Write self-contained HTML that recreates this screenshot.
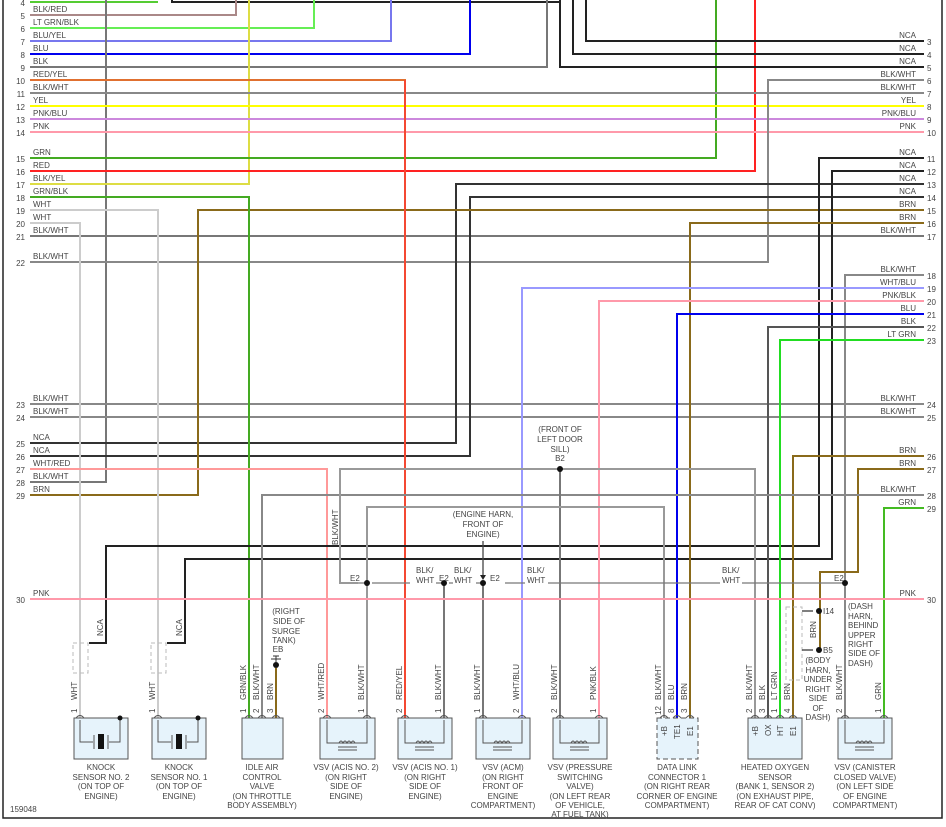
<!DOCTYPE html>
<html><head><meta charset="utf-8"><style>
html,body{margin:0;padding:0;background:#fff;width:946px;height:827px;overflow:hidden}
svg{display:block}
text{font-family:"Liberation Sans",sans-serif;font-size:8px;fill:#444}
.w{fill:none;stroke-width:2}
.t{fill:none;stroke-width:1.3}
</style></head><body>
<svg width="946" height="827" viewBox="0 0 946 827" xmlns="http://www.w3.org/2000/svg">
<rect x="0" y="0" width="946" height="827" fill="#fff"/>
<!-- frame -->
<path d="M3,0 V818 H942 V0" fill="none" stroke="#222" stroke-width="1.5"/>

<!-- top wires -->
<path class="w" stroke="#55cc33" d="M30,2 H158"/>
<path class="w" stroke="#222" d="M172,0 V2 H560"/>
<path class="w" stroke="#a88" d="M30,15 H236 V0"/>
<path class="w" stroke="#66ee55" d="M30,28 H314 V0"/>
<path class="w" stroke="#7777ee" d="M30,41 H391 V0"/>
<path class="w" stroke="#0000ee" d="M30,54 H470 V0"/>
<path class="w" stroke="#777" d="M30,67 H547 V0"/>
<path class="w" stroke="#777" d="M106,0 V482 H30"/>
<path class="w" stroke="#dddd44" d="M249,0 V184 H30"/>
<path class="w" stroke="#44aa22" d="M716,0 V158 H30"/>
<path class="w" stroke="#ff2222" d="M755,0 V171 H30"/>
<path class="w" stroke="#222" d="M560,0 V67 H924"/>
<path class="w" stroke="#222" d="M573,0 V54 H924"/>
<path class="w" stroke="#222" d="M586,0 V41 H924"/>

<!-- through wires -->
<path class="w" stroke="#888" d="M30,93 H924"/>
<path class="w" stroke="#ffff00" d="M30,106 H924"/>
<path class="w" stroke="#cc88dd" d="M30,119 H924"/>
<path class="w" stroke="#ff99aa" d="M30,132 H924"/>
<path class="w" stroke="#777" d="M30,236 H924"/>
<path class="w" stroke="#888" d="M30,404 H924"/>
<path class="w" stroke="#888" d="M30,417 H924"/>

<path class="w" stroke="#888" d="M30,262 H768 V80 H924"/>
<path class="w" stroke="#333" d="M30,443 H456 V184 H924"/>
<path class="w" stroke="#333" d="M30,456 H470 V197 H924"/>
<path class="w" stroke="#8a6a1a" d="M30,495 H198 V210 H924"/>
<path class="w" stroke="#e07030" d="M30,80 H405 V718"/>
<path class="t" stroke="#ff3333" d="M405,80 V718"/>
<path class="w" stroke="#44aa22" d="M30,197 H249 V718"/>
<path class="w" stroke="#ccc" d="M30,210 H158 V718"/>
<path class="w" stroke="#ccc" d="M30,223 H80 V718"/>
<path class="w" stroke="#ff9999" d="M30,469 H327 V718"/>

<path class="w" stroke="#222" d="M924,158 H819 V546 H106 V643 H89"/>
<path class="w" stroke="#222" d="M924,171 H832 V559 H185 V643 H167"/>
<path class="w" stroke="#8a6a1a" d="M924,223 H690 V718"/>
<path class="w" stroke="#888" d="M924,275 H845 V718"/>
<path class="w" stroke="#9999ff" d="M924,288 H522 V718"/>
<path class="w" stroke="#ff99aa" d="M924,301 H599 V718"/>
<path class="w" stroke="#0000ee" d="M924,314 H677 V718"/>
<path class="w" stroke="#555" d="M924,327 H768 V718"/>
<path class="w" stroke="#22dd22" d="M924,340 H780 V718"/>
<path class="w" stroke="#8a6a1a" d="M924,456 H793 V718"/>
<path class="w" stroke="#8a6a1a" d="M924,469 H858 V572 H820 V650"/>
<path class="w" stroke="#888" d="M924,495 H262 V718"/>
<path class="w" stroke="#44bb22" d="M924,508 H884 V718"/>

<!-- inner gray -->
<path class="w" stroke="#999" d="M755,718 V469 H340 V583 H358"/>
<path class="w" stroke="#777" d="M560,469 V718"/>
<path class="w" stroke="#999" d="M664,718 V507 H367 V718"/>
<path class="t" stroke="#777" d="M358,583 H367 M372,583 H410 M436,583 H444 M449,583 H453 M476,583 H483 M505,583 H525 M548,583 H720 M742,583 H845"/>
<path class="w" stroke="#777" d="M444,583 V718 M483,583 V718"/>
<path class="t" stroke="#444" d="M483,541 V576"/>
<path d="M480,575 L486,575 L483,580 Z" fill="#222"/>
<g fill="#111"><circle cx="367" cy="583" r="3"/><circle cx="444" cy="583" r="3"/><circle cx="483" cy="583" r="3"/><circle cx="845" cy="583" r="3"/><circle cx="560" cy="469" r="3"/><circle cx="819" cy="611" r="3"/><circle cx="819" cy="650" r="3"/></g>

<path class="w" stroke="#ff99aa" d="M30,599 H924"/>

<!-- shields -->
<g fill="none" stroke="#bbb" stroke-dasharray="4,3">
<rect x="73" y="643" width="15" height="30"/><rect x="151" y="643" width="15" height="30"/>
<rect x="786" y="607" width="16" height="73"/>
</g>
<path class="t" stroke="#333" d="M802,611 H813 M802,650 H813"/>
<!-- ground EB -->
<path class="w" stroke="#8a6a1a" d="M276,668 V718"/>
<circle cx="276" cy="665" r="3" fill="#111"/>
<path stroke="#333" d="M271,659 H281 M273,656 H279 M276,656 V662"/>

<!-- boxes -->
<g fill="#e6f3fb" stroke="#555" stroke-width="1">
<rect x="74" y="718" width="54" height="41"/>
<rect x="152" y="718" width="54" height="41"/>
<rect x="242" y="718" width="41" height="41"/>
<rect x="320" y="718" width="55" height="41"/>
<rect x="398" y="718" width="54" height="41"/>
<rect x="476" y="718" width="54" height="41"/>
<rect x="553" y="718" width="54" height="41"/>
<rect x="657" y="718" width="41" height="41" stroke-dasharray="5,3"/>
<rect x="748" y="718" width="54" height="41"/>
<rect x="838" y="718" width="54" height="41"/>
</g>
<!-- knock internals -->
<g fill="none" stroke="#555">
<path d="M80,720 V742 H93 M109,742 H120 V718"/>
<path d="M158,720 V742 H171 M187,742 H198 V718"/>
<path d="M94,735 V749 M108,735 V749 M172,735 V749 M186,735 V749"/>
</g>
<rect x="98" y="734" width="6" height="15" fill="#111"/><rect x="176" y="734" width="6" height="15" fill="#111"/>
<circle cx="120" cy="718" r="2.5" fill="#111"/><circle cx="198" cy="718" r="2.5" fill="#111"/>
<!-- vsv internals -->
<g fill="none" stroke="#555">
<path d="M327,720 V743 H367 V720 M339,743 q2,-4 4,0 q2,-4 4,0 q2,-4 4,0 q2,-4 4,0 M338,747 H357 M338,750 H357"/>
<path d="M405,720 V743 H444 V720 M416,743 q2,-4 4,0 q2,-4 4,0 q2,-4 4,0 q2,-4 4,0 M415,747 H434 M415,750 H434"/>
<path d="M483,720 V743 H522 V720 M494,743 q2,-4 4,0 q2,-4 4,0 q2,-4 4,0 q2,-4 4,0 M493,747 H512 M493,750 H512"/>
<path d="M560,720 V743 H599 V720 M571,743 q2,-4 4,0 q2,-4 4,0 q2,-4 4,0 q2,-4 4,0 M570,747 H589 M570,750 H589"/>
<path d="M845,720 V743 H884 V720 M856,743 q2,-4 4,0 q2,-4 4,0 q2,-4 4,0 q2,-4 4,0 M855,747 H874 M855,750 H874"/>
</g>
<!-- pin marks -->
<g fill="none" stroke="#555">
<path d="M76,718 q4,-5 8,0 M154,718 q4,-5 8,0 M245,718 q4,-5 8,0 M258,718 q4,-5 8,0 M272,718 q4,-5 8,0 M323,718 q4,-5 8,0 M363,718 q4,-5 8,0 M401,718 q4,-5 8,0 M440,718 q4,-5 8,0 M479,718 q4,-5 8,0 M518,718 q4,-5 8,0 M556,718 q4,-5 8,0 M595,718 q4,-5 8,0 M660,718 q4,-5 8,0 M673,718 q4,-5 8,0 M686,718 q4,-5 8,0 M751,718 q4,-5 8,0 M764,718 q4,-5 8,0 M776,718 q4,-5 8,0 M789,718 q4,-5 8,0 M841,718 q4,-5 8,0 M880,718 q4,-5 8,0"/>
</g>

<!-- left labels -->
<g text-anchor="end">
<text x="25" y="6">4</text><text x="25" y="19">5</text><text x="25" y="32">6</text><text x="25" y="45">7</text><text x="25" y="58">8</text><text x="25" y="71">9</text><text x="25" y="84">10</text><text x="25" y="97">11</text><text x="25" y="110">12</text><text x="25" y="123">13</text><text x="25" y="136">14</text><text x="25" y="162">15</text><text x="25" y="175">16</text><text x="25" y="188">17</text><text x="25" y="201">18</text><text x="25" y="214">19</text><text x="25" y="227">20</text><text x="25" y="240">21</text><text x="25" y="266">22</text><text x="25" y="408">23</text><text x="25" y="421">24</text><text x="25" y="447">25</text><text x="25" y="460">26</text><text x="25" y="473">27</text><text x="25" y="486">28</text><text x="25" y="499">29</text><text x="25" y="603">30</text>
</g>
<g>
<text x="33" y="12">BLK/RED</text><text x="33" y="25">LT GRN/BLK</text><text x="33" y="38">BLU/YEL</text><text x="33" y="51">BLU</text><text x="33" y="64">BLK</text><text x="33" y="77">RED/YEL</text><text x="33" y="90">BLK/WHT</text><text x="33" y="103">YEL</text><text x="33" y="116">PNK/BLU</text><text x="33" y="129">PNK</text><text x="33" y="155">GRN</text><text x="33" y="168">RED</text><text x="33" y="181">BLK/YEL</text><text x="33" y="194">GRN/BLK</text><text x="33" y="207">WHT</text><text x="33" y="220">WHT</text><text x="33" y="233">BLK/WHT</text><text x="33" y="259">BLK/WHT</text><text x="33" y="401">BLK/WHT</text><text x="33" y="414">BLK/WHT</text><text x="33" y="440">NCA</text><text x="33" y="453">NCA</text><text x="33" y="466">WHT/RED</text><text x="33" y="479">BLK/WHT</text><text x="33" y="492">BRN</text><text x="33" y="596">PNK</text>
</g>
<!-- right labels -->
<g text-anchor="end">
<text x="916" y="38">NCA</text><text x="916" y="51">NCA</text><text x="916" y="64">NCA</text><text x="916" y="77">BLK/WHT</text><text x="916" y="90">BLK/WHT</text><text x="916" y="103">YEL</text><text x="916" y="116">PNK/BLU</text><text x="916" y="129">PNK</text><text x="916" y="155">NCA</text><text x="916" y="168">NCA</text><text x="916" y="181">NCA</text><text x="916" y="194">NCA</text><text x="916" y="207">BRN</text><text x="916" y="220">BRN</text><text x="916" y="233">BLK/WHT</text><text x="916" y="272">BLK/WHT</text><text x="916" y="285">WHT/BLU</text><text x="916" y="298">PNK/BLK</text><text x="916" y="311">BLU</text><text x="916" y="324">BLK</text><text x="916" y="337">LT GRN</text><text x="916" y="401">BLK/WHT</text><text x="916" y="414">BLK/WHT</text><text x="916" y="453">BRN</text><text x="916" y="466">BRN</text><text x="916" y="492">BLK/WHT</text><text x="916" y="505">GRN</text><text x="916" y="596">PNK</text>
</g>
<g>
<text x="927" y="45">3</text><text x="927" y="58">4</text><text x="927" y="71">5</text><text x="927" y="84">6</text><text x="927" y="97">7</text><text x="927" y="110">8</text><text x="927" y="123">9</text><text x="927" y="136">10</text><text x="927" y="162">11</text><text x="927" y="175">12</text><text x="927" y="188">13</text><text x="927" y="201">14</text><text x="927" y="214">15</text><text x="927" y="227">16</text><text x="927" y="240">17</text><text x="927" y="279">18</text><text x="927" y="292">19</text><text x="927" y="305">20</text><text x="927" y="318">21</text><text x="927" y="331">22</text><text x="927" y="344">23</text><text x="927" y="408">24</text><text x="927" y="421">25</text><text x="927" y="460">26</text><text x="927" y="473">27</text><text x="927" y="499">28</text><text x="927" y="512">29</text><text x="927" y="603">30</text>
</g>

<!-- inline annotations -->
<g>
<text x="350" y="581">E2</text><text x="416" y="573">BLK/</text><text x="416" y="583">WHT</text><text x="439" y="581">E2</text>
<text x="454" y="573">BLK/</text><text x="454" y="583">WHT</text><text x="490" y="581">E2</text>
<text x="527" y="573">BLK/</text><text x="527" y="583">WHT</text><text x="722" y="573">BLK/</text><text x="722" y="583">WHT</text>
<text x="834" y="581">E2</text>
<text x="823" y="614">I14</text><text x="823" y="653">B5</text>
</g>
<g text-anchor="middle">
<text x="560" y="432">(FRONT OF</text><text x="560" y="442">LEFT DOOR</text><text x="560" y="452">SILL)</text><text x="560" y="461">B2</text>
<text x="483" y="517">(ENGINE HARN,</text><text x="483" y="527">FRONT OF</text><text x="483" y="537">ENGINE)</text>
<text x="286" y="614">(RIGHT</text><text x="289" y="624">SIDE OF</text><text x="286" y="634">SURGE</text><text x="284" y="643">TANK)</text><text x="278" y="652">EB</text>
<text x="818" y="663">(BODY</text><text x="818" y="673">HARN,</text><text x="818" y="682">UNDER</text><text x="818" y="692">RIGHT</text><text x="818" y="701">SIDE</text><text x="818" y="711">OF</text><text x="818" y="720">DASH)</text>
</g>
<g>
<text x="848" y="609">(DASH</text><text x="848" y="619">HARN,</text><text x="848" y="628">BEHIND</text><text x="848" y="638">UPPER</text><text x="848" y="647">RIGHT</text><text x="848" y="656">SIDE OF</text><text x="848" y="666">DASH)</text>
</g>

<!-- rotated wire labels -->
<g>
<text transform="translate(338,545) rotate(-90)">BLK/WHT</text>
<text transform="translate(103,636) rotate(-90)">NCA</text>
<text transform="translate(182,636) rotate(-90)">NCA</text>
<text transform="translate(816,638) rotate(-90)">BRN</text>
<text transform="translate(77,700) rotate(-90)">WHT</text>
<text transform="translate(155,700) rotate(-90)">WHT</text>
<text transform="translate(246,700) rotate(-90)">GRN/BLK</text>
<text transform="translate(259,700) rotate(-90)">BLK/WHT</text>
<text transform="translate(273,700) rotate(-90)">BRN</text>
<text transform="translate(324,700) rotate(-90)">WHT/RED</text>
<text transform="translate(364,700) rotate(-90)">BLK/WHT</text>
<text transform="translate(402,700) rotate(-90)">RED/YEL</text>
<text transform="translate(441,700) rotate(-90)">BLK/WHT</text>
<text transform="translate(480,700) rotate(-90)">BLK/WHT</text>
<text transform="translate(519,700) rotate(-90)">WHT/BLU</text>
<text transform="translate(557,700) rotate(-90)">BLK/WHT</text>
<text transform="translate(596,700) rotate(-90)">PNK/BLK</text>
<text transform="translate(661,700) rotate(-90)">BLK/WHT</text>
<text transform="translate(674,700) rotate(-90)">BLU</text>
<text transform="translate(687,700) rotate(-90)">BRN</text>
<text transform="translate(752,700) rotate(-90)">BLK/WHT</text>
<text transform="translate(765,700) rotate(-90)">BLK</text>
<text transform="translate(777,700) rotate(-90)">LT GRN</text>
<text transform="translate(790,700) rotate(-90)">BRN</text>
<text transform="translate(842,700) rotate(-90)">BLK/WHT</text>
<text transform="translate(881,700) rotate(-90)">GRN</text>
<!-- pin numbers -->
<text transform="translate(77,713) rotate(-90)">1</text>
<text transform="translate(155,713) rotate(-90)">1</text>
<text transform="translate(246,713) rotate(-90)">1</text><text transform="translate(259,713) rotate(-90)">2</text><text transform="translate(273,713) rotate(-90)">3</text>
<text transform="translate(324,713) rotate(-90)">2</text><text transform="translate(364,713) rotate(-90)">1</text>
<text transform="translate(402,713) rotate(-90)">2</text><text transform="translate(441,713) rotate(-90)">1</text>
<text transform="translate(480,713) rotate(-90)">1</text><text transform="translate(519,713) rotate(-90)">2</text>
<text transform="translate(557,713) rotate(-90)">2</text><text transform="translate(596,713) rotate(-90)">1</text>
<text transform="translate(661,715) rotate(-90)">12</text><text transform="translate(674,713) rotate(-90)">8</text><text transform="translate(687,713) rotate(-90)">3</text>
<text transform="translate(752,713) rotate(-90)">2</text><text transform="translate(765,713) rotate(-90)">3</text><text transform="translate(777,713) rotate(-90)">1</text><text transform="translate(790,713) rotate(-90)">4</text>
<text transform="translate(842,713) rotate(-90)">2</text><text transform="translate(881,713) rotate(-90)">1</text>
<!-- internal pin names -->
<text transform="translate(667,736) rotate(-90)">+B</text><text transform="translate(680,739) rotate(-90)">TE1</text><text transform="translate(693,736) rotate(-90)">E1</text>
<text transform="translate(758,736) rotate(-90)">+B</text><text transform="translate(771,736) rotate(-90)">OX</text><text transform="translate(783,736) rotate(-90)">HT</text><text transform="translate(796,736) rotate(-90)">E1</text>
</g>

<!-- component labels -->
<g text-anchor="middle">
<text x="101" y="770">KNOCK</text><text x="101" y="780">SENSOR NO. 2</text><text x="101" y="789">(ON TOP OF</text><text x="101" y="799">ENGINE)</text>
<text x="179" y="770">KNOCK</text><text x="179" y="780">SENSOR NO. 1</text><text x="179" y="789">(ON TOP OF</text><text x="179" y="799">ENGINE)</text>
<text x="262" y="770">IDLE AIR</text><text x="262" y="780">CONTROL</text><text x="262" y="789">VALVE</text><text x="262" y="799">(ON THROTTLE</text><text x="262" y="808">BODY ASSEMBLY)</text>
<text x="346" y="770">VSV (ACIS NO. 2)</text><text x="346" y="780">(ON RIGHT</text><text x="346" y="789">SIDE OF</text><text x="346" y="799">ENGINE)</text>
<text x="425" y="770">VSV (ACIS NO. 1)</text><text x="425" y="780">(ON RIGHT</text><text x="425" y="789">SIDE OF</text><text x="425" y="799">ENGINE)</text>
<text x="503" y="770">VSV (ACM)</text><text x="503" y="780">(ON RIGHT</text><text x="503" y="789">FRONT OF</text><text x="503" y="799">ENGINE</text><text x="503" y="808">COMPARTMENT)</text>
<text x="580" y="770">VSV (PRESSURE</text><text x="580" y="780">SWITCHING</text><text x="580" y="789">VALVE)</text><text x="580" y="799">(ON LEFT REAR</text><text x="580" y="808">OF VEHICLE,</text><text x="580" y="817">AT FUEL TANK)</text>
<text x="677" y="770">DATA LINK</text><text x="677" y="780">CONNECTOR 1</text><text x="677" y="789">(ON RIGHT REAR</text><text x="677" y="799">CORNER OF ENGINE</text><text x="677" y="808">COMPARTMENT)</text>
<text x="775" y="770">HEATED OXYGEN</text><text x="775" y="780">SENSOR</text><text x="775" y="789">(BANK 1, SENSOR 2)</text><text x="775" y="799">(ON EXHAUST PIPE,</text><text x="775" y="808">REAR OF CAT CONV)</text>
<text x="865" y="770">VSV (CANISTER</text><text x="865" y="780">CLOSED VALVE)</text><text x="865" y="789">(ON LEFT SIDE</text><text x="865" y="799">OF ENGINE</text><text x="865" y="808">COMPARTMENT)</text>
</g>
<text x="10" y="812">159048</text>
</svg>
</body></html>
